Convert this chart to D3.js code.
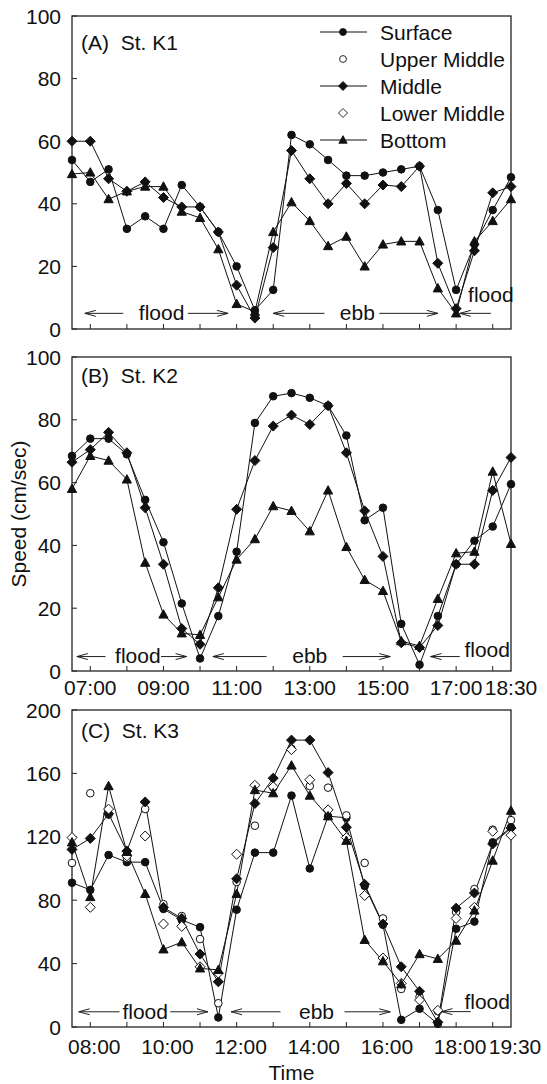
<!DOCTYPE html>
<html lang="en">
<head>
<meta charset="UTF-8">
<script src="https://cdn.jsdelivr.net/npm/d3@7/dist/d3.min.js"></script>
<title>Current speed at St. K1, K2, K3</title>
<style>
    body { margin: 0; background: #fff; }
    svg { display: block; font-family: "Liberation Sans", Arial, sans-serif; }
    .tick-label { font-size: 21px; fill: #111; }
    .legend-label { font-size: 21px; fill: #111; }
    .panel-title { font-size: 21px; fill: #111; white-space: pre; }
    .tide-label { font-size: 21px; fill: #111; }
    .axis-title { font-size: 21px; fill: #111; }
    .frame { fill: none; stroke: #222; stroke-width: 1.3; }
    .series-line { fill: none; stroke: #111; stroke-width: 1; }
    .tick-mark { stroke: #222; stroke-width: 1; }
    .tide-arrow { stroke: #222; stroke-width: 1; fill: none; }
</style>
</head>
<body>
<svg id="chart" width="547" height="1084"></svg>
<script>
// time of each sample (every 30 min)
const timesAB = ["06:30", "07:00", "07:30", "08:00", "08:30", "09:00", "09:30", "10:00", "10:30",
    "11:00", "11:30", "12:00", "12:30", "13:00", "13:30", "14:00", "14:30", "15:00", "15:30",
    "16:00", "16:30", "17:00", "17:30", "18:00", "18:30"];
const timesC = ["07:30", "08:00", "08:30", "09:00", "09:30", "10:00", "10:30", "11:00", "11:30",
    "12:00", "12:30", "13:00", "13:30", "14:00", "14:30", "15:00", "15:30", "16:00", "16:30",
    "17:00", "17:30", "18:00", "18:30", "19:00", "19:30"];

// speed (cm/sec)
const surfaceA = [54, 47, 51, 32, 36, 32, 46, 39, 31, 20, 6, 12.5, 62, 59, 54, 49, 49, 50, 51, 52, 38, 12.5, 27, 38, 48.5];
const middleA = [60, 60, 48, 44, 47, 42, 39, 39, 31, 14, 3.5, 26, 57, 48, 40, 46.5, 40, 46, 45.5, 52, 21, 6.5, 25, 43.5, 45.5];
const bottomA = [49.5, 50, 41.5, 44, 45.5, 45.5, 37.5, 35.5, 25.5, 8, 5.5, 31, 40.5, 34.5, 26.5, 29.5, 20, 27, 28, 28, 13, 5, 28, 34.5, 41.5];

const surfaceB = [68.5, 74, 74, 69, 54.5, 41, 21.5, 4, 17.5, 38, 79, 87.5, 88.5, 87, 84.5, 75, 48, 52, 15, 2, 17.5, 34, 41.5, 46, 59.5];
const middleB = [66.5, 70.5, 76, 69.5, 52, 34, 13.5, 8.5, 26.5, 51.5, 67, 78, 81.5, 78.5, 84.5, 69.5, 51, 36.5, 9, 7.5, 14.5, 34, 34, 57.5, 68];
const bottomB = [58, 68.5, 67, 61, 34.5, 18, 12, 11.5, 23.5, 35.5, 42, 52.5, 51, 44.5, 57.5, 39.5, 29, 25.5, 9.5, 8, 23, 37.5, 38, 63.5, 40.5];

const surfaceC = [91, 86.5, 108.5, 104, 104, 74.5, 67.5, 63, 6, 74, 110, 110, 146, 100, 133, 132, 89, 64.5, 4.5, 11.5, 2, 62, 66.5, 116.5, 126];
const upperMiddleC = [103.5, 147.5, 134, 106.5, 137.5, 77.5, 70, 55.5, 15, 91.5, 127, 151, 175.5, 152, 151, 133.5, 103.5, 68.5, 24, 19, 10, 72.5, 87, 124.5, 130.5];
const middleC = [112, 119, 134.5, 111, 142, 75.5, 68.5, 46, 28.5, 93.5, 141, 157, 181, 181, 160.5, 126, 90, 65, 38, 22.5, 3, 75, 84.5, 115.5, 125.5];
const lowerMiddleC = [119.5, 75.5, 137.5, 108, 120.5, 65, 63.5, 38, 34, 109, 152.5, 151.5, 175, 156, 137, 119.5, 83, 43.5, 27.5, 17, 10.5, 68.5, 75.5, 123.5, 121];
const bottomC = [116.5, 82, 152, 110.5, 84, 49, 53.5, 37, 36, 84, 149.5, 147.5, 165, 146, 133, 117.5, 55, 41.5, 27, 46, 43, 54.5, 73.5, 105, 136.5];

const seriesNames = ["Surface", "Upper Middle", "Middle", "Lower Middle", "Bottom"];
const yTicksAB = [0, 20, 40, 60, 80, 100];
const yTicksC = [0, 40, 80, 120, 160, 200];
const xLabelsB = ["07:00", "09:00", "11:00", "13:00", "15:00", "17:00", "18:30"];
const xLabelsC = ["08:00", "10:00", "12:00", "14:00", "16:00", "18:00", "19:30"];

const parseTime = d3.timeParse("%H:%M");
const svg = d3.select("#chart");
const left = 72, right = 511;

// marker shapes
const shapes = {
    circle: "M3.8,0A3.8,3.8,0,1,1,-3.8,0A3.8,3.8,0,1,1,3.8,0Z",
    diamond: "M0,-5L5,0L0,5L-5,0Z",
    triangle: "M0,-4.8L4.6,3.6L-4.6,3.6Z"
};
const styleOf = {
    "Surface": { shape: "circle", filled: true, line: true },
    "Upper Middle": { shape: "circle", filled: false, line: false },
    "Middle": { shape: "diamond", filled: true, line: true },
    "Lower Middle": { shape: "diamond", filled: false, line: false },
    "Bottom": { shape: "triangle", filled: true, line: true }
};

// open arrow head, tip at the line end
svg.append("defs").append("marker")
    .attr("id", "head")
    .attr("viewBox", "-12 -5 13 10")
    .attr("refX", 0).attr("refY", 0)
    .attr("markerWidth", 13).attr("markerHeight", 10)
    .attr("markerUnits", "userSpaceOnUse")
    .attr("orient", "auto")
    .append("path")
    .attr("d", "M-11,-3L0,0L-11,3")
    .attr("fill", "none").attr("stroke", "#222").attr("stroke-width", 1);

const panels = [
    {
        title: "(A)  St. K1", top: 16, bottom: 329, titleY: 50,
        times: timesAB, start: "06:30", end: "18:30", yMax: 100, yTicks: yTicksAB, xLabels: [],
        series: [["Surface", surfaceA], ["Middle", middleA], ["Bottom", bottomA]],
        tide: [
            { text: "flood", t: 8.95, ty: 5, arrows: [[7.9, 6.85, 5], [9.66, 10.77, 5]] },
            { text: "ebb", t: 14.3, ty: 5, arrows: [[13.4, 12.0, 5], [14.9, 16.5, 5]] },
            { text: "flood", t: 17.95, ty: 11, arrows: [[17.95, 17.1, 5]] }
        ],
        legend: true
    },
    {
        title: "(B)  St. K2", top: 357, bottom: 671, titleY: 383,
        times: timesAB, start: "06:30", end: "18:30", yMax: 100, yTicks: yTicksAB, xLabels: xLabelsB, labelDy: 24,
        series: [["Surface", surfaceB], ["Middle", middleB], ["Bottom", bottomB]],
        tide: [
            { text: "flood", t: 8.3, ty: 4.6, arrows: [[7.42, 6.63, 4.6], [8.93, 9.63, 4.6]] },
            { text: "ebb", t: 13.0, ty: 4.6, arrows: [[11.82, 10.35, 4.6], [13.9, 15.2, 4.6]] },
            { text: "flood", t: 17.85, ty: 6.7, arrows: [[17.1, 16.3, 4.6]] }
        ]
    },
    {
        title: "(C)  St. K3", top: 710, bottom: 1027, titleY: 738,
        times: timesC, start: "07:30", end: "19:30", yMax: 200, yTicks: yTicksC, xLabels: xLabelsC, labelDy: 27, labelShift: 4,
        series: [["Surface", surfaceC], ["Upper Middle", upperMiddleC], ["Middle", middleC],
                 ["Lower Middle", lowerMiddleC], ["Bottom", bottomC]],
        tide: [
            { text: "flood", t: 9.5, ty: 9.6, arrows: [[8.8, 7.69, 9.6], [10.18, 11.22, 9.6]] },
            { text: "ebb", t: 14.18, ty: 9.6, arrows: [[13.2, 11.85, 9.6], [14.95, 16.2, 9.6]] },
            { text: "flood", t: 18.85, ty: 15.8, arrows: [[18.4, 17.6, 9.7]] }
        ]
    }
];

const hourToDate = h => {
    const d = parseTime("00:00");
    d.setMinutes(Math.round(h * 60));
    return d;
};

panels.forEach(p => {
    const x = d3.scaleTime().domain([parseTime(p.start), parseTime(p.end)]).range([left, right]);
    const y = d3.scaleLinear().domain([0, p.yMax]).range([p.bottom, p.top]);
    const g = svg.append("g");

    // tick marks (inside the frame)
    const hourTicks = x.ticks(d3.timeHour.every(1));
    g.selectAll(".xtick").data(hourTicks).enter().append("line")
        .attr("class", "tick-mark")
        .attr("x1", d => x(d)).attr("x2", d => x(d))
        .attr("y1", p.bottom).attr("y2", p.bottom - 5);
    g.selectAll(".ytick").data(p.yTicks).enter().append("line")
        .attr("class", "tick-mark")
        .attr("x1", left).attr("x2", left + 5)
        .attr("y1", d => y(d)).attr("y2", d => y(d));

    g.selectAll(".ylabel").data(p.yTicks).enter().append("text")
        .attr("class", "tick-label")
        .attr("x", left - 11).attr("y", d => y(d)).attr("dy", "0.36em")
        .attr("text-anchor", "end")
        .text(d => d);

    g.selectAll(".xlabel").data(p.xLabels).enter().append("text")
        .attr("class", "tick-label")
        .attr("x", d => x(parseTime(d)) + (p.labelShift || 0))
        .attr("y", p.bottom + p.labelDy)
        .attr("text-anchor", "middle")
        .text(d => d);

    g.append("rect").attr("class", "frame")
        .attr("x", left).attr("y", p.top)
        .attr("width", right - left).attr("height", p.bottom - p.top);

    g.append("text").attr("class", "panel-title")
        .attr("x", left + 9).attr("y", p.titleY)
        .text(p.title);

    // flood / ebb annotations
    p.tide.forEach(a => {
        g.append("text").attr("class", "tide-label")
            .attr("x", x(hourToDate(a.t))).attr("y", y(a.ty)).attr("dy", "0.33em")
            .attr("text-anchor", "middle")
            .text(a.text);
        a.arrows.forEach(([from, to, v]) => {
            g.append("line").attr("class", "tide-arrow")
                .attr("x1", x(hourToDate(from))).attr("x2", x(hourToDate(to)))
                .attr("y1", y(v)).attr("y2", y(v))
                .attr("marker-end", "url(#head)");
        });
    });

    const line = d3.line()
        .x((d, i) => x(parseTime(p.times[i])))
        .y(d => y(d));

    p.series.forEach(([name, values]) => {
        if (styleOf[name].line) {
            g.append("path").attr("class", "series-line").attr("d", line(values));
        }
    });
    p.series.forEach(([name, values]) => {
        const st = styleOf[name];
        g.selectAll(null).data(values).enter().append("path")
            .attr("d", shapes[st.shape])
            .attr("transform", (d, i) => `translate(${x(parseTime(p.times[i]))},${y(d)})`)
            .attr("fill", st.filled ? "#111" : "#fff")
            .attr("stroke", "#111")
            .attr("stroke-width", 1);
    });

    if (p.legend) {
        const lg = g.append("g");
        seriesNames.forEach((name, i) => {
            const st = styleOf[name];
            const ly = 32 + i * 27;
            if (st.line) {
                lg.append("line").attr("class", "series-line")
                    .attr("x1", 320).attr("x2", 367).attr("y1", ly).attr("y2", ly);
            }
            lg.append("path")
                .attr("d", shapes[st.shape])
                .attr("transform", `translate(343,${ly}) scale(0.9)`)
                .attr("fill", st.filled ? "#111" : "#fff")
                .attr("stroke", "#111");
            lg.append("text").attr("class", "legend-label")
                .attr("x", 380).attr("y", ly).attr("dy", "0.36em")
                .text(name);
        });
    }
});

// axis titles
svg.append("text").attr("class", "axis-title")
    .attr("transform", `translate(26,${(357 + 671) / 2}) rotate(-90)`)
    .attr("text-anchor", "middle")
    .text("Speed (cm/sec)");
svg.append("text").attr("class", "axis-title")
    .attr("x", (left + right) / 2).attr("y", 1080)
    .attr("text-anchor", "middle")
    .text("Time");
</script>
</body>
</html>
